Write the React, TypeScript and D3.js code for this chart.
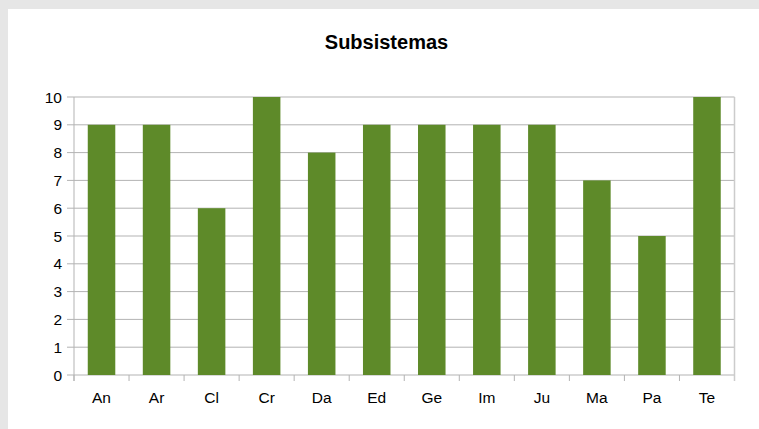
import React from 'react';
import * as d3 from 'd3';

const categories = ['An', 'Ar', 'Cl', 'Cr', 'Da', 'Ed', 'Ge', 'Im', 'Ju', 'Ma', 'Pa', 'Te'];
const values = [9, 9, 6, 10, 8, 9, 9, 9, 9, 7, 5, 10];
const yTicks = [0, 1, 2, 3, 4, 5, 6, 7, 8, 9, 10];
const title = 'Subsistemas';

const W = 759, H = 429;
const left = 74, right = 734.5, top = 97, bottom = 375;
const font = '"Liberation Sans", Arial, sans-serif';

const App = () => {
    const x = d3.scaleBand().domain(categories).range([left, right]).paddingInner(0).paddingOuter(0);
    const y = d3.scaleLinear().domain([0, 10]).range([bottom, top]);
    const bw = x.bandwidth();
    const barW = bw * 0.5;

    return (
        <svg width={W} height={H} style={{ position: 'absolute', left: 0, top: 0 }} fontFamily={font}>
            <rect x={0} y={0} width={W} height={H} fill="#e6e6e6" />
            <rect x={8} y={9} width={W - 8} height={H - 9} fill="#ffffff" />

            <text x={386.5} y={49} textAnchor="middle" fontSize={20} fontWeight="bold" fill="#000">{title}</text>

            {/* grid lines + y ticks */}
            {yTicks.map(t => (
                <g key={t}>
                    <line x1={67} x2={right} y1={y(t)} y2={y(t)} stroke="#b3b3b3" strokeWidth={1} />
                    <text x={62} y={y(t) + 5.5} textAnchor="end" fontSize={15.5} fill="#000">{t}</text>
                </g>
            ))}

            {/* axis frame */}
            <line x1={left} x2={left} y1={top} y2={bottom + 6} stroke="#b3b3b3" />
            <line x1={right} x2={right} y1={top} y2={bottom + 6} stroke="#cccccc" strokeWidth={1.5} />

            {/* x ticks */}
            {categories.map((c, i) => (
                <line key={'t' + c} x1={left + i * bw} x2={left + i * bw} y1={bottom} y2={bottom + 6} stroke="#b3b3b3" />
            ))}

            {/* bars */}
            {categories.map((c, i) => (
                <rect key={c}
                    x={(x(c) as number) + (bw - barW) / 2}
                    y={y(values[i])}
                    width={barW}
                    height={bottom - y(values[i])}
                    fill="#5e8a29" />
            ))}

            {/* x labels */}
            {categories.map(c => (
                <text key={'l' + c} x={(x(c) as number) + bw / 2} y={403} textAnchor="middle" fontSize={15.5} fill="#000">{c}</text>
            ))}
        </svg>
    );
};

export default App;
